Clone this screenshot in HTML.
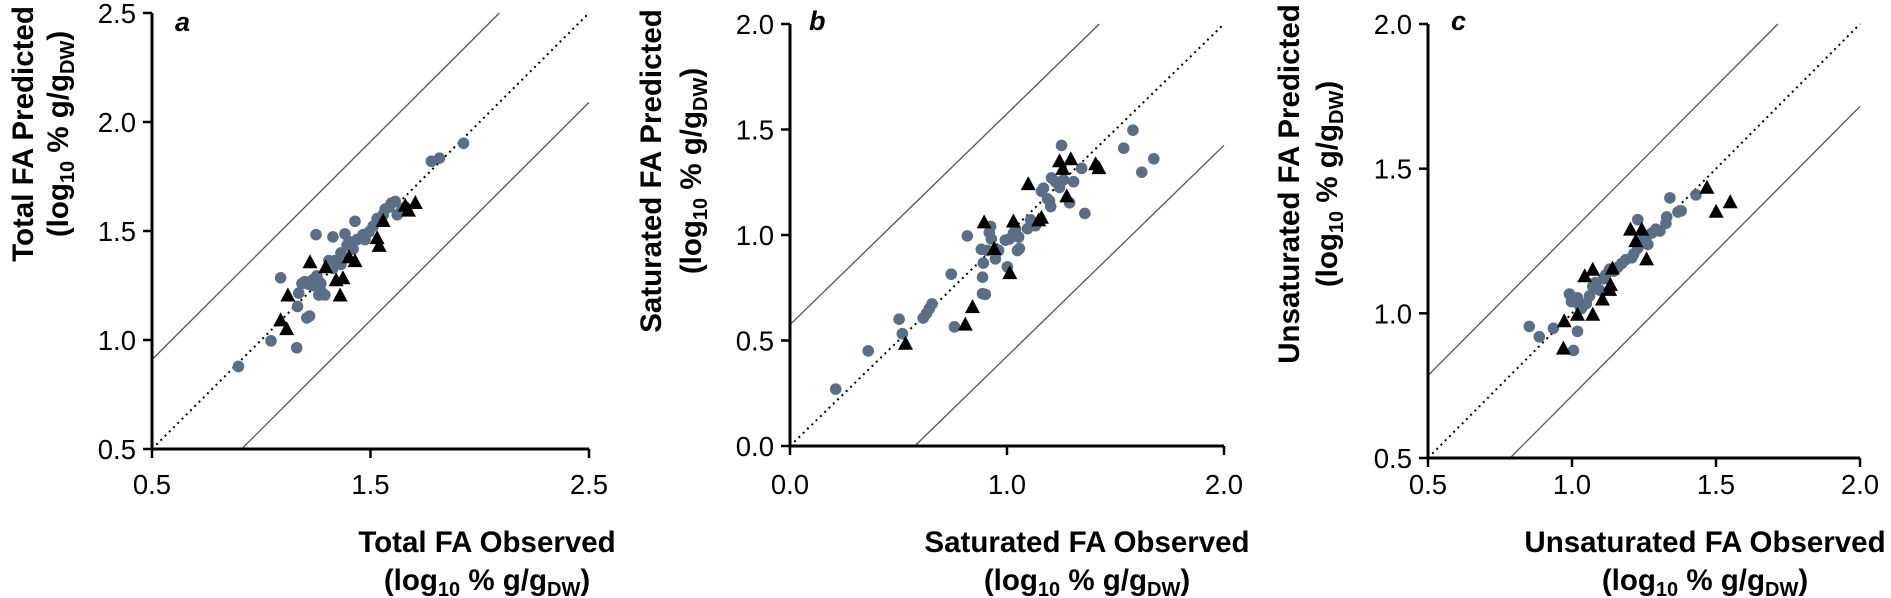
<!DOCTYPE html>
<html><head><meta charset="utf-8"><style>
html,body{margin:0;padding:0;background:#fff;}
svg{display:block;font-family:"Liberation Sans",Arial,sans-serif;}
</style></head><body>
<svg id="s" width="1891" height="598" viewBox="0 0 1891 598" xmlns="http://www.w3.org/2000/svg">
<rect width="1891" height="598" fill="#fff"/>
<text x="175" y="31" font-size="27" font-weight="bold" font-style="italic">a</text>
<text x="809" y="30" font-size="27" font-weight="bold" font-style="italic">b</text>
<text x="1451" y="30" font-size="27" font-weight="bold" font-style="italic">c</text>
<g font-weight="bold" font-size="29.5" text-anchor="middle">
<text transform="translate(33,134) rotate(-90)">Total FA Predicted</text>
<text transform="translate(68,134) rotate(-90)">(log<tspan font-size="20" dy="6">10</tspan><tspan dy="-6"> % g/g</tspan><tspan font-size="20" dy="6">DW</tspan><tspan dy="-6">)</tspan></text>
<text x="487" y="552">Total FA Observed</text>
<text x="487" y="590">(log<tspan font-size="20" dy="6">10</tspan><tspan dy="-6"> % g/g</tspan><tspan font-size="20" dy="6">DW</tspan><tspan dy="-6">)</tspan></text>

<text transform="translate(661,171) rotate(-90)">Saturated FA Predicted</text>
<text transform="translate(701,171) rotate(-90)">(log<tspan font-size="20" dy="6">10</tspan><tspan dy="-6"> % g/g</tspan><tspan font-size="20" dy="6">DW</tspan><tspan dy="-6">)</tspan></text>
<text x="1087" y="552">Saturated FA Observed</text>
<text x="1087" y="590">(log<tspan font-size="20" dy="6">10</tspan><tspan dy="-6"> % g/g</tspan><tspan font-size="20" dy="6">DW</tspan><tspan dy="-6">)</tspan></text>

<text transform="translate(1299,184) rotate(-90)">Unsaturated FA Predicted</text>
<text transform="translate(1337,184) rotate(-90)">(log<tspan font-size="20" dy="6">10</tspan><tspan dy="-6"> % g/g</tspan><tspan font-size="20" dy="6">DW</tspan><tspan dy="-6">)</tspan></text>
<text x="1705" y="552">Unsaturated FA Observed</text>
<text x="1705" y="590">(log<tspan font-size="20" dy="6">10</tspan><tspan dy="-6"> % g/g</tspan><tspan font-size="20" dy="6">DW</tspan><tspan dy="-6">)</tspan></text>
</g>
<g id="g"></g>
</svg>
<script>
var NS="http://www.w3.org/2000/svg",G=document.getElementById("g");
function el(t,a,txt){var e=document.createElementNS(NS,t);for(var k in a)e.setAttribute(k,a[k]);if(txt!=null)e.textContent=txt;G.appendChild(e);return e;}
var panels=[
 {x0:152,x1:589,y0:449,y1:13,min:0.5,max:2.5,ticks:[0.5,1.5,2.5],yt:[0.5,1.0,1.5,2.0,2.5],off:0.41,
  zx0:380,zx1:1467,zy0:1173,zy1:32,
  c:[[595,957],[676,890],[740,908],[700,725],[745,765],[742,800],[765,830],[772,825],[753,740],[760,735],[788,612],[830,618],[770,742],[780,730],[790,720],[800,740],[795,770],[810,770],[800,760],[820,680],[835,680],[850,660],[860,610],[865,640],[870,630],[880,650],[885,577],[905,612],[910,625],[920,605],[930,590],[940,570],[955,560],[960,545],[970,540],[975,530],[985,525],[990,560],[1000,550],[1010,540],[1075,420],[1095,412],[1155,373],[890,625],[850,690],[780,745],[830,700]],
  t:[[773,683],[718,770],[700,835],[715,858],[812,696],[838,730],[855,725],[848,770],[870,670],[885,680],[940,620],[945,640],[955,575],[1010,535],[1018,548],[1035,528]]},
 {x0:790,x1:1224,y0:446,y1:24,min:0,max:2,ticks:[0,1,2],yt:[0,0.5,1,1.5,2],off:0.575,
  zx0:398,zx1:1480,zy0:1167,zy1:62,
  c:[[512,1018],[593,918],[670,835],[678,873],[730,832],[738,820],[745,808],[752,795],[800,717],[808,855],[840,617],[875,652],[878,725],[878,768],[880,688],[885,770],[890,655],[895,608],[898,592],[900,625],[910,677],[918,655],[935,628],[940,698],[945,625],[955,610],[960,600],[965,655],[968,620],[970,650],[990,598],[998,575],[1010,590],[1025,500],[1030,492],[1040,520],[1045,525],[1048,540],[1050,465],[1060,475],[1075,380],[1070,490],[1080,470],[1095,530],[1105,475],[1125,440],[1133,558],[1230,387],[1253,340],[1275,450],[1305,415]],
  t:[[686,898],[835,848],[853,802],[882,580],[907,650],[946,713],[955,578],[992,480],[1018,575],[1025,568],[1070,420],[1078,440],[1088,512],[1098,415],[1160,428],[1168,438]]},
 {x0:1428,x1:1860,y0:458,y1:24,min:0.5,max:2,ticks:[0.5,1,1.5,2],yt:[0.5,1,1.5,2],off:0.285,
  zx0:418,zx1:1493,zy0:1200,zy1:62,
  c:[[670,855],[695,882],[730,860],[770,770],[775,790],[790,868],[790,780],[795,800],[780,918],[800,808],[812,795],[820,775],[828,750],[835,740],[845,760],[855,730],[860,720],[870,705],[880,710],[890,700],[900,690],[910,680],[925,675],[930,665],[940,650],[945,640],[950,630],[960,625],[965,640],[975,610],[985,600],[995,605],[1010,585],[1012,568],[1020,518],[1040,555],[1048,552],[1085,510],[940,575]],
  t:[[757,840],[755,912],[790,823],[808,722],[828,705],[828,823],[852,783],[870,758],[872,745],[877,702],[922,600],[935,630],[950,600],[962,678],[1112,490],[1135,553],[1170,528]]}
];
panels.forEach(function(p){
 function X(v){return p.x0+(v-p.min)/(p.max-p.min)*(p.x1-p.x0);}
 function Y(v){return p.y0-(v-p.min)/(p.max-p.min)*(p.y0-p.y1);}
 function zx(z){return p.x0+(z-p.zx0)*(p.x1-p.x0)/(p.zx1-p.zx0);}
 function zy(z){return p.y0-(p.zy0-z)*(p.y0-p.y1)/(p.zy0-p.zy1);}
 el("line",{x1:X(p.min),y1:Y(p.min+p.off),x2:X(p.max-p.off),y2:Y(p.max),stroke:"#555","stroke-width":1.3});
 el("line",{x1:X(p.min+p.off),y1:Y(p.min),x2:X(p.max),y2:Y(p.max-p.off),stroke:"#555","stroke-width":1.3});
 el("line",{x1:X(p.min),y1:Y(p.min),x2:X(p.max),y2:Y(p.max),stroke:"#000","stroke-width":2,"stroke-dasharray":"2 4"});
 p.c.forEach(function(q){el("circle",{cx:zx(q[0]),cy:zy(q[1]),r:5.8,fill:"#5a6f86"});});
 p.t.forEach(function(q){var x=zx(q[0]),y=zy(q[1]);el("polygon",{points:(x-7.5)+","+(y+6.5)+" "+(x+7.5)+","+(y+6.5)+" "+x+","+(y-7.5),fill:"#000"});});
 el("line",{x1:p.x0,y1:p.y1,x2:p.x0,y2:p.y0,stroke:"#000","stroke-width":3});
 el("line",{x1:p.x0,y1:p.y0,x2:p.x1,y2:p.y0,stroke:"#000","stroke-width":3});
 p.yt.forEach(function(v){var y=Y(v);el("line",{x1:p.x0-9,y1:y,x2:p.x0,y2:y,stroke:"#000","stroke-width":2.5});
  el("text",{x:p.x0-16,y:y+10,"font-size":27.5,"text-anchor":"end"},v.toFixed(1));});
 p.ticks.forEach(function(v){var x=X(v);el("line",{x1:x,y1:p.y0,x2:x,y2:p.y0+9,stroke:"#000","stroke-width":2.5});
  el("text",{x:x,y:494,"font-size":27.5,"text-anchor":"middle"},v.toFixed(1));});
});
</script>
</body></html>
